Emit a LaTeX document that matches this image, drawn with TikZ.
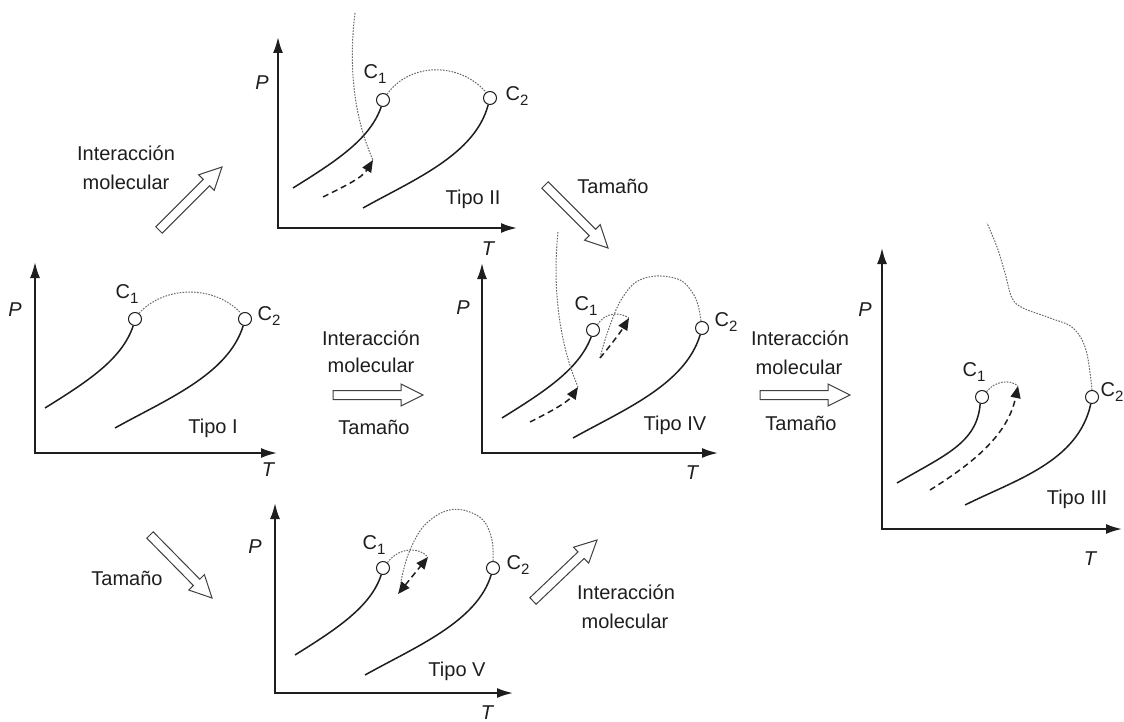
\documentclass[tikz,border=0pt]{standalone}
\usepackage{fontspec}
\setmainfont{Liberation Sans}
\usetikzlibrary{calc,arrows.meta}

\definecolor{ink}{RGB}{30,30,30}
\definecolor{dotc}{RGB}{105,105,105}

% critical point label with a low subscript
\newcommand\Csub[1]{C\raisebox{-5.5pt}{\fontsize{15}{15}\selectfont #1}}

% wide hollow arrow from a tail coordinate (#1) to a tip coordinate (#2)
\newcommand\hollowarrow[2]{%
  \coordinate (#1-b) at ($(#2)!22pt!(#1)$);
  \draw[hollow] ($(#1)!4.5pt!90:(#2)$) -- ($(#1-b)!4.5pt!90:(#2)$)
    -- ($(#1-b)!11pt!90:(#2)$) -- (#2) -- ($(#1-b)!11pt!-90:(#2)$)
    -- ($(#1-b)!4.5pt!-90:(#2)$) -- ($(#1)!4.5pt!-90:(#2)$) -- cycle;}

\tikzset{
  axis/.style={line width=1.9pt, draw=ink, line join=miter,
    {Latex[length=16pt,width=10pt]}-{Latex[length=16pt,width=10pt]}},
  branch/.style={line width=1.5pt, draw=ink},
  threeph/.style={line width=1.5pt, draw=ink, dash pattern=on 6pt off 4pt},
  critline/.style={line width=1pt, draw=dotc, dash pattern=on 1.6pt off 1.3pt},
  crit/.style={circle, draw=ink, line width=1pt, fill=white,
    minimum size=13pt, inner sep=0pt},
  lbl/.style={font=\fontsize{20}{22}\selectfont, text=ink, inner sep=0pt},
  axlbl/.style={font=\fontsize{20}{22}\selectfont\itshape, text=ink, inner sep=0pt},
  cl/.style={font=\fontsize{20}{22}\selectfont, text=ink, inner sep=0pt},
  hollow/.style={draw=ink!85, line width=1pt, fill=white, line join=miter},
  tri/.style={-{Triangle[length=12pt,width=10pt]}},
  bitri/.style={{Triangle[length=12pt,width=10pt]}-{Triangle[length=12pt,width=10pt]}},
}

\begin{document}
\begin{tikzpicture}[x=1pt,y=-1pt]
\useasboundingbox[fill=white] (0,0) rectangle (1124,722);

% ---------------- Tipo I ----------------
\coordinate (I-p) at (35,262); \coordinate (I-o) at (35,453); \coordinate (I-t) at (277,453);
\draw[axis] (I-p) -- (I-o) -- (I-t);
\node[crit] (I-c1) at (135,319) {};
\node[crit] (I-c2) at (245,319) {};
\draw[branch] (45,408) .. controls (85,383) and (122,360) .. (I-c1.-105);
\draw[branch] (115,428) .. controls (165,400) and (228,375) .. (I-c2.-105);
\draw[critline] (I-c1.55) .. controls (165,285) and (215,285) .. (I-c2.125);
\node[axlbl] (I-P) at (15,310) {P};
\node[axlbl] (I-T) at (268,470) {T};
\node[cl] (I-l1) at (127,294) {\Csub{1}};
\node[cl] (I-l2) at (269,316) {\Csub{2}};
\node[lbl] (I-name) at (213,428) {Tipo I};

% ---------------- Tipo II ----------------
\coordinate (II-p) at (278,37); \coordinate (II-o) at (278,228); \coordinate (II-t) at (517,228);
\draw[axis] (II-p) -- (II-o) -- (II-t);
\node[crit] (II-c1) at (383,100) {};
\node[crit] (II-c2) at (490,98) {};
\draw[branch] (293,188) .. controls (333,163) and (370,140) .. (II-c1.-105);
\draw[branch] (363,208) .. controls (413,180) and (475,155) .. (II-c2.-105);
\draw[critline] (II-c1.55) .. controls (410,62) and (460,62) .. (II-c2.125);
\coordinate (II-u) at (373,160);
\draw[critline] (355,13) .. controls (348,70) and (355,120) .. (II-u);
\draw[threeph,tri] (323,197) .. controls (345,186) and (362,178) .. (II-u);
\node[axlbl] (II-P) at (262,83) {P};
\node[axlbl] (II-T) at (488,249) {T};
\node[cl] (II-l1) at (375,74) {\Csub{1}};
\node[cl] (II-l2) at (517,96) {\Csub{2}};
\node[lbl] (II-name) at (473,199) {Tipo II};

% ---------------- Tipo IV ----------------
\coordinate (IV-p) at (482,263); \coordinate (IV-o) at (482,453); \coordinate (IV-t) at (718,453);
\draw[axis] (IV-p) -- (IV-o) -- (IV-t);
\node[crit] (IV-c1) at (593,330) {};
\node[crit] (IV-c2) at (702,328) {};
\draw[branch] (502,418) .. controls (542,393) and (579,370) .. (IV-c1.-105);
\draw[branch] (573,438) .. controls (623,410) and (685,385) .. (IV-c2.-105);
\coordinate (IV-u) at (578,387);
\draw[critline] (558,232) .. controls (552,290) and (560,345) .. (IV-u);
\draw[threeph,tri] (530,422) .. controls (550,412) and (568,402) .. (IV-u);
\coordinate (IV-a) at (629,318);
\coordinate (IV-b) at (600,358);
\draw[critline] (IV-c1.50) .. controls (605,312) and (620,312) .. (IV-a);
\draw[critline] plot[smooth,tension=0.6] coordinates {(701,321) (698,305) (692,292) (680,280) (657,276) (636,282) (621,300) (612,320) (605,340) (600,358)};
\draw[threeph,tri] (IV-b) .. controls (610,346) and (620,333) .. (IV-a);
\node[axlbl] (IV-P) at (463,308) {P};
\node[axlbl] (IV-T) at (692,473) {T};
\node[cl] (IV-l1) at (586,306) {\Csub{1}};
\node[cl] (IV-l2) at (726,322) {\Csub{2}};
\node[lbl] (IV-name) at (675,425) {Tipo IV};

% ---------------- Tipo III ----------------
\coordinate (III-p) at (882,248); \coordinate (III-o) at (882,529); \coordinate (III-t) at (1122,529);
\draw[axis] (III-p) -- (III-o) -- (III-t);
\node[crit] (III-c1) at (982,397) {};
\node[crit] (III-c2) at (1092,397) {};
\draw[branch] (897,483) .. controls (945,455) and (977,443) .. (III-c1.-105);
\draw[branch] (965,505) .. controls (1015,480) and (1078,462) .. (III-c2.-100);
\coordinate (III-u) at (1018,386);
\draw[critline] (III-c1.50) .. controls (995,381) and (1010,379) .. (III-u);
\draw[threeph,tri] (930,490) .. controls (975,462) and (1008,434) .. (III-u);
\draw[critline] plot[smooth,tension=0.6] coordinates {(1092,390) (1086,350) (1073,328) (1050,318) (1023,308) (1012,298) (1005,273) (997,247) (987,223)};
\node[axlbl] (III-P) at (865,310) {P};
\node[axlbl] (III-T) at (1090,559) {T};
\node[cl] (III-l1) at (974,372) {\Csub{1}};
\node[cl] (III-l2) at (1112,392) {\Csub{2}};
\node[lbl] (III-name) at (1077,499) {Tipo III};

% ---------------- Tipo V ----------------
\coordinate (V-p) at (275,503); \coordinate (V-o) at (275,693); \coordinate (V-t) at (513,693);
\draw[axis] (V-p) -- (V-o) -- (V-t);
\node[crit] (V-c1) at (383,568) {};
\node[crit] (V-c2) at (493,568) {};
\draw[branch] (295,655) .. controls (335,630) and (371,607) .. (V-c1.-105);
\draw[branch] (365,675) .. controls (415,647) and (477,622) .. (V-c2.-105);
\coordinate (V-a) at (428,557);
\coordinate (V-b) at (398,594);
\draw[critline] (V-c1.50) .. controls (398,548) and (418,546) .. (V-a);
\draw[critline] plot[smooth,tension=0.6] coordinates {(493,561) (492,540) (483,520) (463,510) (443,512) (423,527) (410,550) (403,572) (400,588)};
\draw[threeph,bitri] (V-b) -- (V-a);
\node[axlbl] (V-P) at (255,547) {P};
\node[axlbl] (V-T) at (487,713) {T};
\node[cl] (V-l1) at (374,545) {\Csub{1}};
\node[cl] (V-l2) at (518,565) {\Csub{2}};
\node[lbl] (V-name) at (457,671) {Tipo V};

% ---------------- transitions ----------------
\coordinate (a1) at (159,230); \coordinate (a1h) at (222,167);
\coordinate (a2) at (545,185); \coordinate (a2h) at (608,248);
\coordinate (a3) at (333,395); \coordinate (a3h) at (423,395);
\coordinate (a4) at (760,395); \coordinate (a4h) at (850,395);
\coordinate (a5) at (150,535); \coordinate (a5h) at (212,598);
\coordinate (a6) at (533,601); \coordinate (a6h) at (597,540);
\hollowarrow{a1}{a1h}
\hollowarrow{a2}{a2h}
\hollowarrow{a3}{a3h}
\hollowarrow{a4}{a4h}
\hollowarrow{a5}{a5h}
\hollowarrow{a6}{a6h}

\node[lbl] (t1a) at (126,153) {Interacción};
\node[lbl] (t1b) at (126,182) {molecular};
\node[lbl] (t2) at (613,186) {Tamaño};
\node[lbl] (t3a) at (371,338) {Interacción};
\node[lbl] (t3b) at (371,365) {molecular};
\node[lbl] (t3c) at (374,427) {Tamaño};
\node[lbl] (t4a) at (800,338) {Interacción};
\node[lbl] (t4b) at (799,367) {molecular};
\node[lbl] (t4c) at (801,423) {Tamaño};
\node[lbl] (t5) at (127,578) {Tamaño};
\node[lbl] (t6a) at (626,592) {Interacción};
\node[lbl] (t6b) at (625,621) {molecular};
\end{tikzpicture}
\end{document}
